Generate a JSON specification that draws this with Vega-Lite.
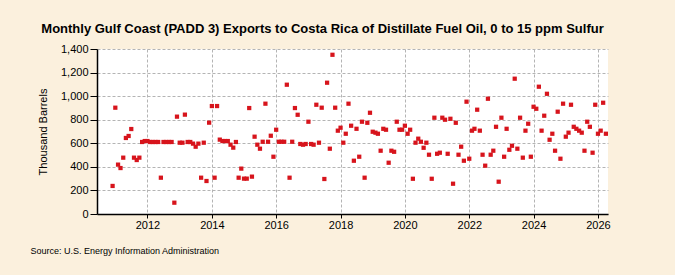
{
  "$schema": "https://vega.github.io/schema/vega-lite/v6.json",
  "width": 511,
  "height": 165,
  "autosize": {"type": "none"},
  "padding": {"left": 97, "top": 49, "right": 67, "bottom": 61},
  "background": "#FBF0DD",
  "title": {
    "text": "Monthly Gulf Coast (PADD 3) Exports to Costa Rica of Distillate Fuel Oil, 0 to 15 ppm Sulfur",
    "font": "Liberation Sans",
    "fontSize": 13,
    "fontWeight": "bold",
    "color": "#000000",
    "anchor": "middle",
    "dx": -30,
    "offset": 7
  },
  "data": {
    "values": [
      {"date": "2010-12-01", "value": 238},
      {"date": "2011-01-01", "value": 902},
      {"date": "2011-02-01", "value": 419},
      {"date": "2011-03-01", "value": 390},
      {"date": "2011-04-01", "value": 478},
      {"date": "2011-05-01", "value": 645},
      {"date": "2011-06-01", "value": 662},
      {"date": "2011-07-01", "value": 721},
      {"date": "2011-08-01", "value": 478},
      {"date": "2011-09-01", "value": 458},
      {"date": "2011-10-01", "value": 478},
      {"date": "2011-11-01", "value": 611},
      {"date": "2011-12-01", "value": 619},
      {"date": "2012-01-01", "value": 619},
      {"date": "2012-02-01", "value": 611},
      {"date": "2012-03-01", "value": 611},
      {"date": "2012-04-01", "value": 611},
      {"date": "2012-05-01", "value": 611},
      {"date": "2012-06-01", "value": 308},
      {"date": "2012-07-01", "value": 611},
      {"date": "2012-08-01", "value": 611},
      {"date": "2012-09-01", "value": 611},
      {"date": "2012-10-01", "value": 611},
      {"date": "2012-11-01", "value": 96},
      {"date": "2012-12-01", "value": 826},
      {"date": "2013-01-01", "value": 605},
      {"date": "2013-02-01", "value": 605},
      {"date": "2013-03-01", "value": 843},
      {"date": "2013-04-01", "value": 611},
      {"date": "2013-05-01", "value": 611},
      {"date": "2013-06-01", "value": 597},
      {"date": "2013-07-01", "value": 571},
      {"date": "2013-08-01", "value": 597},
      {"date": "2013-09-01", "value": 308},
      {"date": "2013-10-01", "value": 605},
      {"date": "2013-11-01", "value": 280},
      {"date": "2013-12-01", "value": 775},
      {"date": "2014-01-01", "value": 916},
      {"date": "2014-02-01", "value": 308},
      {"date": "2014-03-01", "value": 916},
      {"date": "2014-04-01", "value": 631},
      {"date": "2014-05-01", "value": 619},
      {"date": "2014-06-01", "value": 619},
      {"date": "2014-07-01", "value": 619},
      {"date": "2014-08-01", "value": 588},
      {"date": "2014-09-01", "value": 563},
      {"date": "2014-10-01", "value": 611},
      {"date": "2014-11-01", "value": 308},
      {"date": "2014-12-01", "value": 385},
      {"date": "2015-01-01", "value": 300},
      {"date": "2015-02-01", "value": 300},
      {"date": "2015-03-01", "value": 899},
      {"date": "2015-04-01", "value": 317},
      {"date": "2015-05-01", "value": 656},
      {"date": "2015-06-01", "value": 588},
      {"date": "2015-07-01", "value": 554},
      {"date": "2015-08-01", "value": 613},
      {"date": "2015-09-01", "value": 936},
      {"date": "2015-10-01", "value": 613},
      {"date": "2015-11-01", "value": 664},
      {"date": "2015-12-01", "value": 486},
      {"date": "2016-01-01", "value": 715},
      {"date": "2016-02-01", "value": 613},
      {"date": "2016-03-01", "value": 613},
      {"date": "2016-04-01", "value": 613},
      {"date": "2016-05-01", "value": 1097},
      {"date": "2016-06-01", "value": 308},
      {"date": "2016-07-01", "value": 613},
      {"date": "2016-08-01", "value": 899},
      {"date": "2016-09-01", "value": 842},
      {"date": "2016-10-01", "value": 594},
      {"date": "2016-11-01", "value": 588},
      {"date": "2016-12-01", "value": 594},
      {"date": "2017-01-01", "value": 783},
      {"date": "2017-02-01", "value": 594},
      {"date": "2017-03-01", "value": 588},
      {"date": "2017-04-01", "value": 927},
      {"date": "2017-05-01", "value": 605},
      {"date": "2017-06-01", "value": 902},
      {"date": "2017-07-01", "value": 297},
      {"date": "2017-08-01", "value": 1114},
      {"date": "2017-09-01", "value": 554},
      {"date": "2017-10-01", "value": 1351},
      {"date": "2017-11-01", "value": 902},
      {"date": "2017-12-01", "value": 707},
      {"date": "2018-01-01", "value": 732},
      {"date": "2018-02-01", "value": 605},
      {"date": "2018-03-01", "value": 681},
      {"date": "2018-04-01", "value": 936},
      {"date": "2018-05-01", "value": 749},
      {"date": "2018-06-01", "value": 452},
      {"date": "2018-07-01", "value": 723},
      {"date": "2018-08-01", "value": 486},
      {"date": "2018-09-01", "value": 783},
      {"date": "2018-10-01", "value": 308},
      {"date": "2018-11-01", "value": 774},
      {"date": "2018-12-01", "value": 859},
      {"date": "2019-01-01", "value": 698},
      {"date": "2019-02-01", "value": 690},
      {"date": "2019-03-01", "value": 681},
      {"date": "2019-04-01", "value": 537},
      {"date": "2019-05-01", "value": 723},
      {"date": "2019-06-01", "value": 715},
      {"date": "2019-07-01", "value": 435},
      {"date": "2019-08-01", "value": 537},
      {"date": "2019-09-01", "value": 528},
      {"date": "2019-10-01", "value": 783},
      {"date": "2019-11-01", "value": 715},
      {"date": "2019-12-01", "value": 715},
      {"date": "2020-01-01", "value": 749},
      {"date": "2020-02-01", "value": 681},
      {"date": "2020-03-01", "value": 715},
      {"date": "2020-04-01", "value": 299},
      {"date": "2020-05-01", "value": 605},
      {"date": "2020-06-01", "value": 639},
      {"date": "2020-07-01", "value": 613},
      {"date": "2020-08-01", "value": 562},
      {"date": "2020-09-01", "value": 605},
      {"date": "2020-10-01", "value": 503},
      {"date": "2020-11-01", "value": 299},
      {"date": "2020-12-01", "value": 817},
      {"date": "2021-01-01", "value": 511},
      {"date": "2021-02-01", "value": 520},
      {"date": "2021-03-01", "value": 817},
      {"date": "2021-04-01", "value": 800},
      {"date": "2021-05-01", "value": 511},
      {"date": "2021-06-01", "value": 808},
      {"date": "2021-07-01", "value": 257},
      {"date": "2021-08-01", "value": 774},
      {"date": "2021-09-01", "value": 503},
      {"date": "2021-10-01", "value": 571},
      {"date": "2021-11-01", "value": 452},
      {"date": "2021-12-01", "value": 953},
      {"date": "2022-01-01", "value": 469},
      {"date": "2022-02-01", "value": 707},
      {"date": "2022-03-01", "value": 723},
      {"date": "2022-04-01", "value": 885},
      {"date": "2022-05-01", "value": 707},
      {"date": "2022-06-01", "value": 503},
      {"date": "2022-07-01", "value": 410},
      {"date": "2022-08-01", "value": 978},
      {"date": "2022-09-01", "value": 503},
      {"date": "2022-10-01", "value": 537},
      {"date": "2022-11-01", "value": 740},
      {"date": "2022-12-01", "value": 274},
      {"date": "2023-01-01", "value": 817},
      {"date": "2023-02-01", "value": 486},
      {"date": "2023-03-01", "value": 723},
      {"date": "2023-04-01", "value": 545},
      {"date": "2023-05-01", "value": 579},
      {"date": "2023-06-01", "value": 1148},
      {"date": "2023-07-01", "value": 554},
      {"date": "2023-08-01", "value": 817},
      {"date": "2023-09-01", "value": 478},
      {"date": "2023-10-01", "value": 707},
      {"date": "2023-11-01", "value": 766},
      {"date": "2023-12-01", "value": 486},
      {"date": "2024-01-01", "value": 910},
      {"date": "2024-02-01", "value": 893},
      {"date": "2024-03-01", "value": 1080},
      {"date": "2024-04-01", "value": 707},
      {"date": "2024-05-01", "value": 834},
      {"date": "2024-06-01", "value": 1020},
      {"date": "2024-07-01", "value": 630},
      {"date": "2024-08-01", "value": 681},
      {"date": "2024-09-01", "value": 537},
      {"date": "2024-10-01", "value": 868},
      {"date": "2024-11-01", "value": 469},
      {"date": "2024-12-01", "value": 936},
      {"date": "2025-01-01", "value": 656},
      {"date": "2025-02-01", "value": 690},
      {"date": "2025-03-01", "value": 927},
      {"date": "2025-04-01", "value": 740},
      {"date": "2025-05-01", "value": 723},
      {"date": "2025-06-01", "value": 707},
      {"date": "2025-07-01", "value": 690},
      {"date": "2025-08-01", "value": 537},
      {"date": "2025-09-01", "value": 783},
      {"date": "2025-10-01", "value": 740},
      {"date": "2025-11-01", "value": 520},
      {"date": "2025-12-01", "value": 927},
      {"date": "2026-01-01", "value": 681},
      {"date": "2026-02-01", "value": 707},
      {"date": "2026-03-01", "value": 944},
      {"date": "2026-04-01", "value": 681}
    ]
  },
  "mark": {"type": "square", "filled": true, "size": 18, "color": "#D7141C", "opacity": 1},
  "encoding": {
    "x": {
      "field": "date",
      "type": "temporal",
      "scale": {"type": "utc", "domain": ["2010-06-07", "2026-04-25"], "nice": false},
      "axis": {
        "format": "%Y",
        "formatType": "utc",
        "values": ["2012-01-01", "2014-01-01", "2016-01-01", "2018-01-01", "2020-01-01", "2022-01-01", "2024-01-01", "2026-01-01"],
        "title": "Source: U.S. Energy Information Administration",
        "titleAnchor": "start",
        "titleAlign": "left",
        "titleBaseline": "middle",
        "titleX": -67,
        "titleY": 36,
        "titleFont": "Liberation Sans",
        "titleFontSize": 9,
        "titleFontWeight": "normal",
        "titleColor": "#000000",
        "labelFont": "Liberation Sans",
        "labelFontSize": 11,
        "labelColor": "#000000",
        "labelPadding": 1,
        "tickSize": 4,
        "tickColor": "#000000",
        "domainColor": "#000000",
        "grid": true,
        "gridColor": "#B4B4B4",
        "gridDash": [3, 2],
        "labelFlush": false
      }
    },
    "y": {
      "field": "value",
      "type": "quantitative",
      "scale": {"domain": [0, 1400], "nice": false},
      "axis": {
        "values": [0, 200, 400, 600, 800, 1000, 1200, 1400],
        "format": ",d",
        "title": "Thousand Barrels",
        "titleFont": "Liberation Sans",
        "titleFontSize": 11,
        "titleFontWeight": "normal",
        "titleColor": "#000000",
        "titlePadding": 12,
        "labelFont": "Liberation Sans",
        "labelFontSize": 11,
        "labelColor": "#000000",
        "labelPadding": 2,
        "tickSize": 7,
        "tickColor": "#000000",
        "domainColor": "#000000",
        "grid": true,
        "gridColor": "#B4B4B4",
        "gridDash": [3, 2],
        "labelFlush": false
      }
    }
  },
  "config": {
    "view": {"stroke": null, "fill": "#FFFFFF"},
    "axis": {"domainWidth": 1.5}
  }
}
